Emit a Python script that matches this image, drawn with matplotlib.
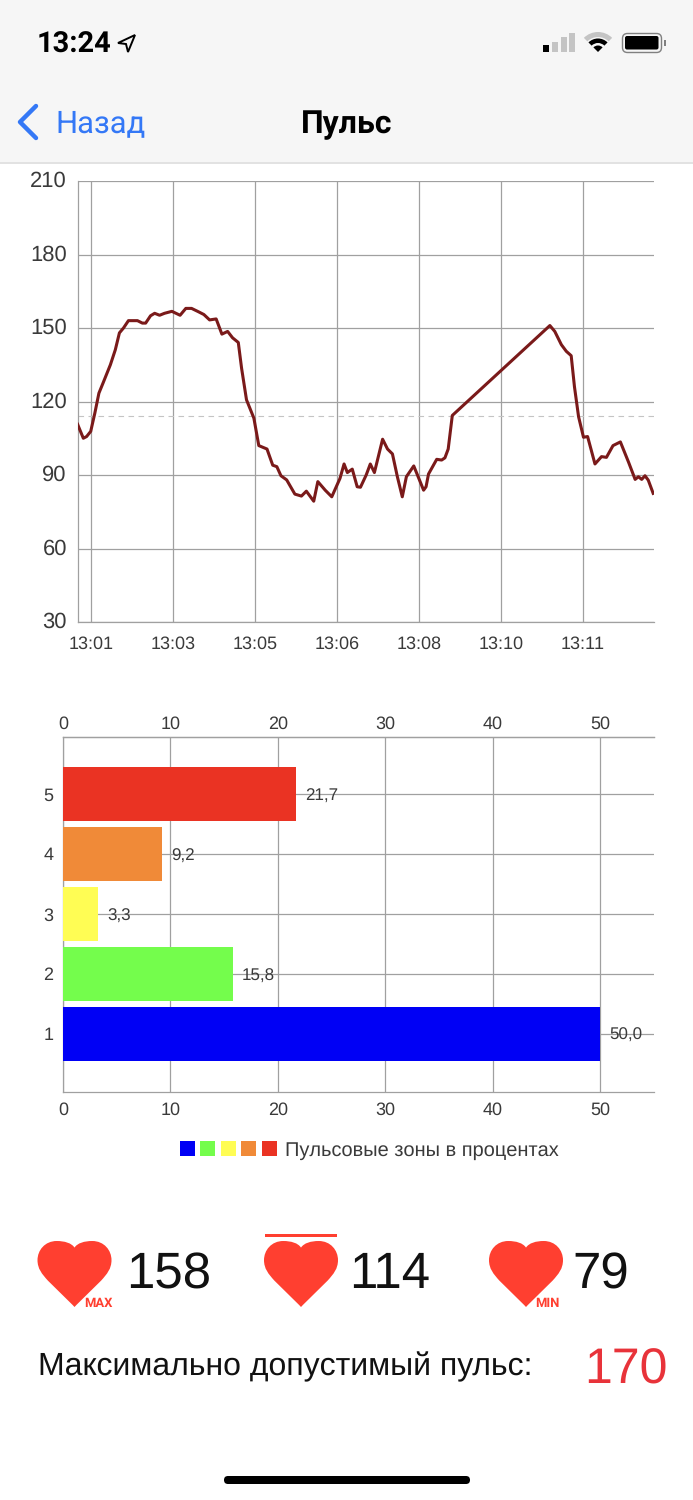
"""Heart rate screen: pulse line, zone bars and summary numbers."""

import matplotlib
matplotlib.use("Agg")
import matplotlib.pyplot as plt
from matplotlib.patches import FancyBboxPatch, PathPatch, Polygon, Rectangle, Wedge
from matplotlib.path import Path
from matplotlib.transforms import ScaledTranslation

# seconds after the first time label, pulse in bpm
seconds = [-16, -9, -5, 0, 5, 10, 15, 24, 30, 35, 40, 46, 57, 63, 67, 73, 78, 84, 90, 99,
           109, 116, 123, 131, 138, 145, 153, 160, 167, 173, 180, 184, 190, 199, 205, 215,
           222, 227, 232, 239, 249, 257, 263, 272, 277, 286, 294, 304, 309, 313, 319, 325,
           329, 336, 341, 346, 356, 362, 368, 374, 380, 385, 394, 406, 409, 412, 422, 428,
           432, 436, 441, 560, 566, 574, 580, 586, 590, 595, 601, 606, 615, 623, 629, 637,
           646, 656, 664, 668, 672, 676, 680, 686]
pulse = [110.7, 105, 105.7, 107.8, 115.2, 123.4, 127.5, 135, 141.1, 148, 150, 153, 153, 152,
         152, 155, 156, 155.2, 156, 156.8, 155.2, 158, 158, 156.7, 155.5, 153.3, 153.7, 147.5,
         148.6, 146, 144.1, 133.6, 120.7, 113.2, 102, 100.6, 94, 93.4, 89.7, 88, 82.2, 81.4,
         83.4, 79.3, 87.3, 83.8, 81.1, 88.6, 94.5, 91, 92.4, 85.2, 85, 90, 94.5, 91, 104.6,
         100.6, 98.6, 89.3, 81.1, 89.3, 93.7, 83.8, 85.2, 90.4, 96.4, 96.1, 97, 100.6, 114.3,
         151, 148.6, 143.2, 140.5, 138.7, 126, 113.8, 105.4, 105.7, 94.5, 97.5, 97.2, 102,
         103.5, 95.2, 88.2, 89.3, 88.2, 89.7, 87.9, 82.5]
time_ticks = [0, 100, 200, 300, 400, 500, 600]
time_labels = ["13:01", "13:03", "13:05", "13:06", "13:08", "13:10", "13:11"]
pulse_ticks = [30, 60, 90, 120, 150, 180, 210]
mean_pulse = 114

zones = [1, 2, 3, 4, 5]
zone_percent = [50.0, 15.8, 3.3, 9.2, 21.7]
zone_colors = ["#0000f5", "#74fd4c", "#fffd54", "#f08a38", "#ea3323"]
percent_ticks = [0, 10, 20, 30, 40, 50]

summary_values = ["158", "114", "79"]
allowed_pulse = "170"

W, H = 693, 1500
GRID = "#a0a0a0"
TEXT = "#3a3a3a"
RED = "#ff3f30"
CHROME_FONT = ["Roboto", "DejaVu Sans"]
plt.rcParams["font.family"] = ["Liberation Sans", "DejaVu Sans"]
plt.rcParams["text.hinting"] = "none"
plt.rcParams["text.hinting_factor"] = 1


def add_axes_px(fig, left, top, right, bottom):
    return fig.add_axes([left / W, 1 - bottom / H, (right - left) / W, (bottom - top) / H])


def shift_labels(fig, labels, dy_px):
    offset = ScaledTranslation(0, -dy_px / 100, fig.dpi_scale_trans)
    for label in labels:
        label.set_transform(label.get_transform() + offset)


def draw_heart(ax, cx, top, half_w=37, height=66):
    def p(x, y):
        return (cx + x * half_w, top + y * height)
    verts = [p(0, 0.1), p(-0.08, 0.03), p(-0.27, 0), p(-0.48, 0),
             p(-0.8, 0), p(-1, 0.14), p(-1, 0.29),
             p(-1, 0.42), p(-0.88, 0.5), p(-0.72, 0.6),
             p(-0.05, 0.97), p(0, 1.0), p(0.05, 0.97), p(0.72, 0.6),
             p(0.88, 0.5), p(1, 0.42), p(1, 0.29),
             p(1, 0.14), p(0.8, 0), p(0.48, 0),
             p(0.27, 0), p(0.08, 0.03), p(0, 0.1)]
    codes = [Path.MOVETO] + [Path.CURVE4] * 9 + [Path.LINETO] * 4 + [Path.CURVE4] * 9
    ax.add_patch(PathPatch(Path(verts, codes), fc=RED, ec="none"))


fig = plt.figure(figsize=(W / 100, H / 100), dpi=100, facecolor="white")

# pulse chart
ax = add_axes_px(fig, 78, 181, 654, 622)
ax.plot(seconds, pulse, color="#7a1a1a", lw=2.2, zorder=3)
ax.axhline(mean_pulse, color="#c4c4c4", lw=0.8, ls=(0, (5, 4)), zorder=2)
ax.set_xlim(-15.5, 687)
ax.set_ylim(30, 210)
ax.set_xticks(time_ticks, time_labels)
ax.set_yticks(pulse_ticks)
ax.grid(True, color=GRID, lw=0.9)
ax.set_axisbelow(True)
ax.tick_params(axis="x", length=0, pad=10, labelsize=13.3, labelcolor=TEXT)
ax.tick_params(axis="y", length=0, pad=8, labelsize=16, labelcolor=TEXT)
shift_labels(fig, ax.get_yticklabels(), -2)
for side in ["top", "right"]:
    ax.spines[side].set_visible(False)
for side in ["left", "bottom"]:
    ax.spines[side].set_color(GRID)
    ax.spines[side].set_linewidth(0.9)

# zone bars
bx = add_axes_px(fig, 63, 737, 654, 1092)
bx.barh(zones, zone_percent, height=0.9, color=zone_colors, zorder=3)
for zone, value in zip(zones, zone_percent):
    bx.annotate(f"{value:.1f}".replace(".", ","), (value, zone), xytext=(6.5, -1.5),
                textcoords="offset points", va="center", ha="left",
                fontsize=12.5, color=TEXT, zorder=4)
bx.set_xlim(0, 55)
bx.set_ylim(0.03, 5.95)
bx.set_xticks(percent_ticks)
bx.set_yticks(zones)
bx.grid(True, color=GRID, lw=0.9)
bx.set_axisbelow(True)
bx.tick_params(axis="x", length=0, pad=7, labelsize=12.8, labelcolor=TEXT)
bx.tick_params(axis="y", length=0, pad=7, labelsize=13, labelcolor=TEXT)
top_axis = bx.secondary_xaxis("top")
top_axis.set_xticks(percent_ticks)
top_axis.tick_params(length=0, pad=3, labelsize=12.8, labelcolor=TEXT)
top_axis.spines["top"].set_color(GRID)
top_axis.spines["top"].set_linewidth(0.9)
bx.spines["right"].set_visible(False)
for side in ["left", "bottom", "top"]:
    bx.spines[side].set_color(GRID)
    bx.spines[side].set_linewidth(0.9)

# phone chrome and summary, laid out in screen pixels
ui = fig.add_axes([0, 0, 1, 1], zorder=5)
ui.set_xlim(0, W)
ui.set_ylim(H, 0)
ui.axis("off")
ui.patch.set_alpha(0)

ui.add_patch(Rectangle((0, 0), W, 162, fc="#f6f6f6", ec="none"))
ui.add_patch(Rectangle((0, 162), W, 2, fc="#e2e2e2", ec="none"))
ui.text(37, 45, "13:24", family=CHROME_FONT, fontsize=21, fontweight="bold", color="black", va="center", ha="left")
ui.add_patch(Polygon([(135, 35), (118, 43), (126, 44), (128, 52)], closed=True, fc="none", ec="black", lw=1.4))
for left, top, shade in [(543, 45, "black"), (552, 42, "#c4c4c4"), (561, 37, "#c4c4c4"), (569, 33, "#c4c4c4")]:
    ui.add_patch(Rectangle((left, top), 5.5, 52 - top, fc=shade, ec="none"))
for radius, width, shade in [(20, 5, "#c4c4c4"), (13.5, 4.5, "black"), (6.5, 6.5, "black")]:
    ui.add_patch(Wedge((598, 52), radius, 225, 315, width=width, fc=shade, ec="none"))
ui.add_patch(FancyBboxPatch((622.5, 33.5), 39, 19, boxstyle="round,pad=0,rounding_size=5", fc="#f6f6f6", ec="#808080", lw=1))
ui.add_patch(FancyBboxPatch((625, 36), 33.5, 13.5, boxstyle="round,pad=0,rounding_size=2", fc="black", ec="none"))
ui.add_patch(Rectangle((664, 40), 2, 6, fc="#808080", ec="none"))

ui.plot([36, 20, 36], [106, 122, 138], color="#3478f6", lw=3.2, solid_capstyle="round", solid_joinstyle="round")
ui.text(55, 124, "Назад", family=CHROME_FONT, fontsize=22.5, color="#3478f6", va="center", ha="left")
ui.text(346.5, 125, "Пульс", family=CHROME_FONT, fontsize=23, fontweight="bold", color="black", va="center", ha="center")

# legend row
for i, color in enumerate(zone_colors):
    ui.add_patch(Rectangle((180 + i * 20.4, 1141), 15, 15, fc=color, ec="none"))
ui.text(285, 1151, "Пульсовые зоны в процентах", fontsize=14.05, color=TEXT, va="center", ha="left")

# summary row
for cx in [74.5, 301, 526]:
    draw_heart(ui, cx, 1241)
ui.add_patch(Rectangle((265, 1234), 72, 2.5, fc=RED, ec="none"))
ui.text(84, 1303, "MAX", family=CHROME_FONT, fontsize=9, fontweight="bold", color=RED, va="center", ha="left")
ui.text(535, 1303, "MIN", family=CHROME_FONT, fontsize=9, fontweight="bold", color=RED, va="center", ha="left")
for x, value in zip([126, 349, 572], summary_values):
    ui.text(x, 1275, value, fontsize=36.5, color="#111111", va="center", ha="left")
ui.text(38, 1367, "Максимально допустимый пульс:", fontsize=22.8, color="#111111", va="center", ha="left")
ui.text(584, 1371, allowed_pulse, fontsize=36, color="#e8333a", va="center", ha="left")

ui.add_patch(FancyBboxPatch((224, 1476), 246, 8, boxstyle="round,pad=0,rounding_size=4", fc="black", ec="none"))

fig.savefig("out.png", dpi=100)
plt.close(fig)
